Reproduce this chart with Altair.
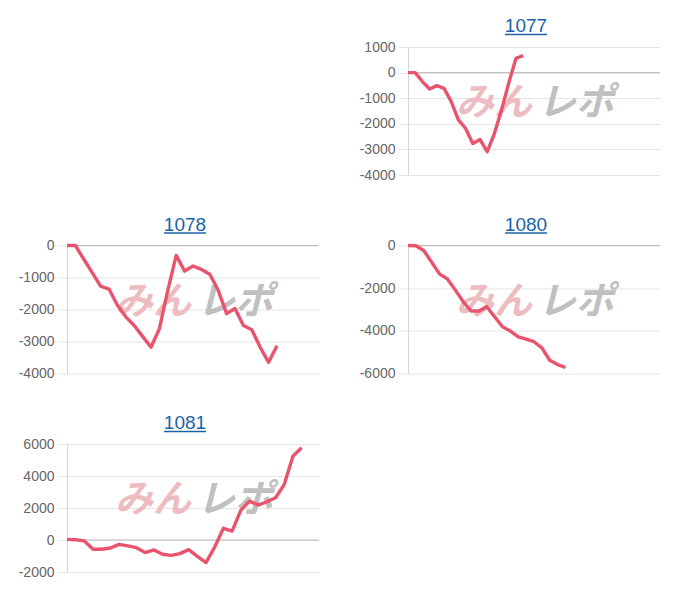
import altair as alt
import pandas as pd

# ---- data ----
names = ["1077", "1078", "1080", "1081"]

v1077 = [0, 0, -350, -640, -510, -615, -1130, -1850, -2180, -2770, -2610, -3090,
         -2380, -1450, -400, 560, 660]
v1078 = [0, 0, -430, -850, -1270, -1360, -1870, -2230, -2500, -2840, -3180, -2600,
         -1400, -310, -800, -640, -745, -900, -1400, -2130, -1970, -2500, -2630,
         -3180, -3650, -3130]
v1080 = [0, -15, -235, -780, -1330, -1570, -2080, -2630, -3070, -3070, -2870, -3340,
         -3810, -4010, -4280, -4390, -4510, -4800, -5380, -5580, -5720]
v1081 = [40, 20, -60, -580, -580, -500, -270, -370, -480, -790, -620, -890, -960,
         -850, -600, -1020, -1410, -440, 730, 560, 1850, 2430, 2180, 2390, 2640,
         3470, 5240, 5760]

series = [v1077, v1078, v1080, v1081]
x_slots = [35, 30, 32, 29]                 # number of category slots on each x axis
y_ranges = [(-4000, 1000), (-4000, 0), (-6000, 0), (-2000, 6000)]
y_steps = [1000, 1000, 2000, 2000]

LINE = "#e8546d"
TITLE = "#1b63a6"
W, H = 252, 128
TX = W / 2 - 8


def panel(name, vals, slots, yr, step):
    df = pd.DataFrame({"i": list(range(len(vals))), "v": vals})
    one = pd.DataFrame({"t": [name]})
    ticks = list(range(yr[0], yr[1] + 1, step))
    ys = alt.Scale(domain=list(yr), nice=False, zero=False)
    xs = alt.Scale(domain=[0, slots], nice=False, zero=False)
    yaxis = alt.Axis(
        values=ticks, title=None, grid=True, gridColor="#e5e5e5",
        domainColor="#d6d6d6", tickColor="#e5e5e5", tickSize=9,
        labelColor="#666666", labelFontSize=14, labelFont="Liberation Sans",
        labelPadding=4, labelOverlap=False, labelExpr="datum.value + ''")
    zero = alt.Chart(one).mark_rule(color="#bdbdbd", strokeWidth=1).encode(
        y=alt.YDatum(0, scale=ys, axis=yaxis))
    line = alt.Chart(df).mark_line(color=LINE, strokeWidth=3.4, strokeJoin="round").encode(
        x=alt.X("i:Q", scale=xs, axis=None),
        y=alt.Y("v:Q", scale=ys, axis=yaxis),
    )
    wm1 = alt.Chart(one).mark_text(text="みん", font="Noto Sans CJK JP", fontSize=38,
                                   fontWeight="bold", fontStyle="italic", color="#ecbcc0",
                                   align="right", baseline="middle").encode(
        x=alt.value(W / 2 - 2), y=alt.value(H / 2 - 7))
    wm2 = alt.Chart(one).mark_text(text="レポ", font="Noto Sans CJK JP", fontSize=38,
                                   fontWeight="bold", fontStyle="italic", color="#c0c0c0",
                                   align="left", baseline="middle").encode(
        x=alt.value(W / 2 + 4), y=alt.value(H / 2 - 7))
    title = alt.Chart(one).mark_text(font="Liberation Sans", fontSize=19,
                                     color=TITLE, align="center", baseline="alphabetic").encode(
        text="t:N", x=alt.value(TX), y=alt.value(-15))
    underline = alt.Chart(one).mark_rule(color=TITLE, strokeWidth=1.3).encode(
        x=alt.value(TX - 21), x2=alt.value(TX + 21), y=alt.value(-12.5))
    return alt.layer(zero, wm1, wm2, line, title, underline).properties(width=W, height=H)


panels = [panel(n, v, s, r, st) for n, v, s, r, st in
          zip(names, series, x_slots, y_ranges, y_steps)]

empty = alt.Chart(pd.DataFrame({"i": [0]})).mark_point(opacity=0).encode(
    x=alt.X("i:Q", axis=None), y=alt.Y("i:Q", axis=None)).properties(width=W, height=H)

chart = alt.concat(empty, panels[0], panels[1], panels[2], panels[3], columns=2,
                   spacing={"row": 33.5, "column": 39}).properties(
    padding={"left": 10, "top": 9, "right": 5, "bottom": 5}
).configure_view(stroke=None)

chart.save("out.html", embed_options={"renderer": "svg", "actions": False})
